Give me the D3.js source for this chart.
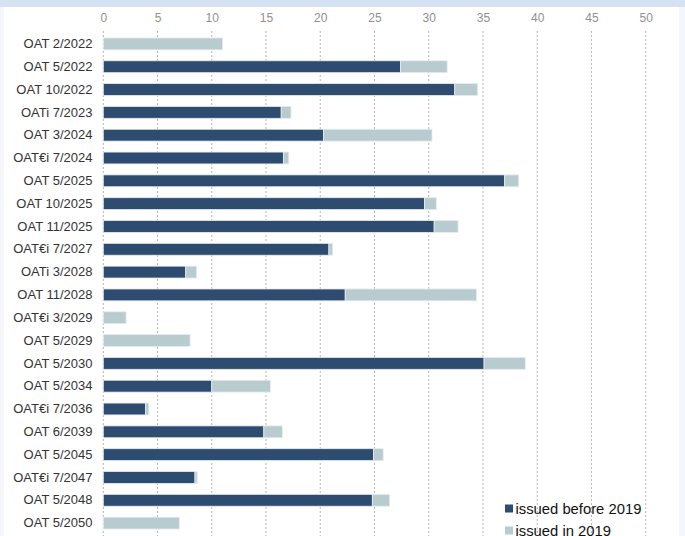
<!DOCTYPE html>
<html>
<head>
<meta charset="utf-8">
<script src="https://cdn.jsdelivr.net/npm/d3@7"></script>
<style>
  body { margin: 0; background: #fff; }
  svg { display: block; font-family: "Liberation Sans", Arial, sans-serif; }
</style>
</head>
<body>
<div id="grafico"></div>
<script>
// Dados (bilhões de euros)
const titulos = ["OAT 2/2022", "OAT 5/2022", "OAT 10/2022", "OATi 7/2023", "OAT 3/2024",
  "OAT€i 7/2024", "OAT 5/2025", "OAT 10/2025", "OAT 11/2025", "OAT€i 7/2027",
  "OATi 3/2028", "OAT 11/2028", "OAT€i 3/2029", "OAT 5/2029", "OAT 5/2030",
  "OAT 5/2034", "OAT€i 7/2036", "OAT 6/2039", "OAT 5/2045", "OAT€i 7/2047",
  "OAT 5/2048", "OAT 5/2050"];
const antes2019 = [0, 27.4, 32.4, 16.4, 20.3, 16.6, 37.0, 29.6, 30.5, 20.8,
  7.6, 22.3, 0, 0, 35.1, 10.0, 3.9, 14.8, 24.9, 8.45, 24.8, 0];
const em2019 = [11.0, 4.3, 2.1, 0.9, 10.0, 0.5, 1.3, 1.1, 2.2, 0.35,
  1.0, 12.1, 2.1, 8.0, 3.8, 5.4, 0.3, 1.7, 0.9, 0.2, 1.6, 7.0];
const series = ["issued before 2019", "issued in 2019"];
const ticks = [0, 5, 10, 15, 20, 25, 30, 35, 40, 45, 50];

const width = 685;
const height = 536;
const cores = ["#2d4c6f", "#b8cbcf"];

const svg = d3.select("#grafico")
  .append("svg")
  .attr("width", width)
  .attr("height", height);

// Moldura (faixa superior e laterais)
svg.append("rect").attr("x", 0).attr("y", 0).attr("width", width).attr("height", 7).attr("fill", "#d5e2f1");
svg.append("rect").attr("x", 0).attr("y", 7).attr("width", 4).attr("height", height).attr("fill", "#f3f7fc");
svg.append("rect").attr("x", 679).attr("y", 7).attr("width", 6).attr("height", height).attr("fill", "#f3f7fc");

const x = d3.scaleLinear().domain([0, 50]).range([103.3, 645.7]);
const y = d3.scaleBand().domain(titulos).range([32.5, 534.5]).paddingInner(0.48).paddingOuter(0.24);

// Linhas de grade
svg.append("g")
  .selectAll("line")
  .data(ticks)
  .enter()
  .append("line")
  .attr("x1", d => x(d))
  .attr("x2", d => x(d))
  .attr("y1", 31)
  .attr("y2", height)
  .attr("stroke", "#b5b5b5")
  .attr("stroke-width", 1)
  .attr("stroke-dasharray", "2,2");

// Eixo superior
const eixoX = svg.append("g")
  .attr("transform", "translate(0, 22)")
  .call(d3.axisTop(x).tickValues(ticks).tickSize(0).tickPadding(0));
eixoX.select(".domain").remove();
eixoX.selectAll("text")
  .attr("fill", "#919191")
  .style("font-size", "12px")
  .style("font-family", "Liberation Sans, Arial, sans-serif");

// Eixo das categorias
const eixoY = svg.append("g")
  .attr("transform", "translate(92.5, 0)")
  .call(d3.axisLeft(y).tickSize(0).tickPadding(0));
eixoY.select(".domain").remove();
eixoY.selectAll("text")
  .attr("fill", "#333")
  .style("font-size", "13px")
  .style("font-family", "Liberation Sans, Arial, sans-serif");

// Barras empilhadas
const linhas = titulos.map((t, i) => ({ titulo: t, antes: antes2019[i], em: em2019[i] }));
const pilha = d3.stack().keys(["antes", "em"])(linhas);

svg.append("g")
  .selectAll("g")
  .data(pilha)
  .enter()
  .append("g")
  .attr("fill", (d, i) => cores[i])
  .selectAll("rect")
  .data(d => d.filter(p => p[1] - p[0] > 0))
  .enter()
  .append("rect")
  .attr("x", d => x(d[0]))
  .attr("y", d => y(d.data.titulo))
  .attr("width", d => x(d[1]) - x(d[0]))
  .attr("height", y.bandwidth())
  .attr("stroke", "#e6edf0")
  .attr("stroke-width", 0.8);

// Legenda
const legenda = svg.append("g")
  .selectAll("g")
  .data(series)
  .enter()
  .append("g")
  .attr("transform", (d, i) => `translate(505, ${504.5 + i * 22})`);

legenda.append("rect")
  .attr("width", 8)
  .attr("height", 8)
  .attr("fill", (d, i) => cores[i]);

legenda.append("text")
  .attr("x", 10.5)
  .attr("y", 4)
  .attr("dy", "0.35em")
  .attr("fill", "#111")
  .style("font-size", "14.8px")
  .text(d => d);
</script>
</body>
</html>
